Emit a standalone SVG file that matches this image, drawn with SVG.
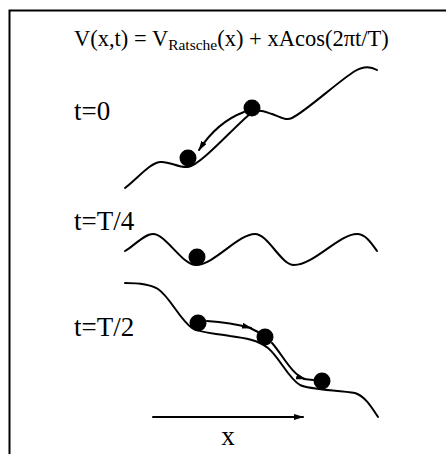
<svg xmlns="http://www.w3.org/2000/svg" width="446" height="454" viewBox="0 0 446 454">
<defs>
<style>
.t{font-family:"Liberation Serif","Times New Roman",serif;fill:#000}
.c{fill:none;stroke:#000;stroke-width:2;stroke-linecap:round;stroke-linejoin:round}
.p{fill:none;stroke:#000;stroke-width:2;stroke-linecap:round}
.b{fill:#000}
</style>
<marker id="ah" viewBox="0 0 10 6" refX="9" refY="3" markerWidth="10" markerHeight="6" markerUnits="userSpaceOnUse" orient="auto">
<path d="M0,0 L10,3 L0,6 Z" fill="#000"/>
</marker>
</defs>
<rect width="446" height="454" fill="#fff"/>
<g id="frame" fill="none" stroke="#000" stroke-width="2">
<path d="M446,10.5 L9.5,10.5 L9.5,454"/>
</g>
<g id="title">
<text class="t" x="74" y="46" font-size="22.5">V(x,t) = V<tspan font-size="15.5" dy="4">Ratsche</tspan><tspan dy="-4">(x) + xAcos(2πt/T)</tspan></text>
</g>
<g id="labels">
<text class="t" x="74" y="120" font-size="27">t=0</text>
<text class="t" x="74" y="230" font-size="27">t=T/4</text>
<text class="t" x="74" y="336" font-size="27">t=T/2</text>
<text class="t" x="228" y="445" font-size="27" text-anchor="middle">x</text>
</g>
<g id="curves">
<path id="curve-t0" class="c" d="M125,188 C138,178 150,163 160,162 C170,161 178,168 188,167 C200,166 235,126 250,114 C258,108 265,112 272,114 C280,117 286,121 292,118 C305,112 340,80 355,71 C362,67 370,66 377,70"/>
<path id="curve-tT4" class="c" d="M125,251 C134,246 144,234 153,234 C166,234 182,265 196,265 C214,265 238,234 255,234 C268,234 281,265 294,265 C314,265 339,234 357,234 C366,234 372,244 377,251"/>
<path id="curve-tT2" class="c" d="M125,283 C138,283 150,284 158,289 C170,297 180,320 192,328 C200,333 212,333 230,336 C245,338 258,340 268,348 C280,358 288,378 300,385 C310,390 340,390 355,393 C365,396 372,408 378,417"/>
</g>
<g id="connectors">
<path class="p" d="M244,112 C228,118 212,130 199,150" marker-end="url(#ah)"/>
<path class="p" d="M207,321 C222,322 236,324 251,328" marker-end="url(#ah)"/>
<path class="p" d="M250,328 L258,332"/>
<path class="p" d="M272,343 C282,354 292,375 305,379" marker-end="url(#ah)"/>
<path class="p" d="M304,379 L313,380"/>
<path id="x-axis" class="p" d="M153,417 L303,417" marker-end="url(#ah)"/>
</g>
<g id="balls">
<circle id="ball-t0-a" class="b" cx="252" cy="108" r="8.5"/>
<circle id="ball-t0-b" class="b" cx="188" cy="158" r="8.5"/>
<circle id="ball-tT4" class="b" cx="197" cy="257" r="8.5"/>
<circle id="ball-tT2-a" class="b" cx="198" cy="323" r="8.5"/>
<circle id="ball-tT2-b" class="b" cx="265" cy="337" r="8.5"/>
<circle id="ball-tT2-c" class="b" cx="322" cy="381" r="8.5"/>
</g>
</svg>
